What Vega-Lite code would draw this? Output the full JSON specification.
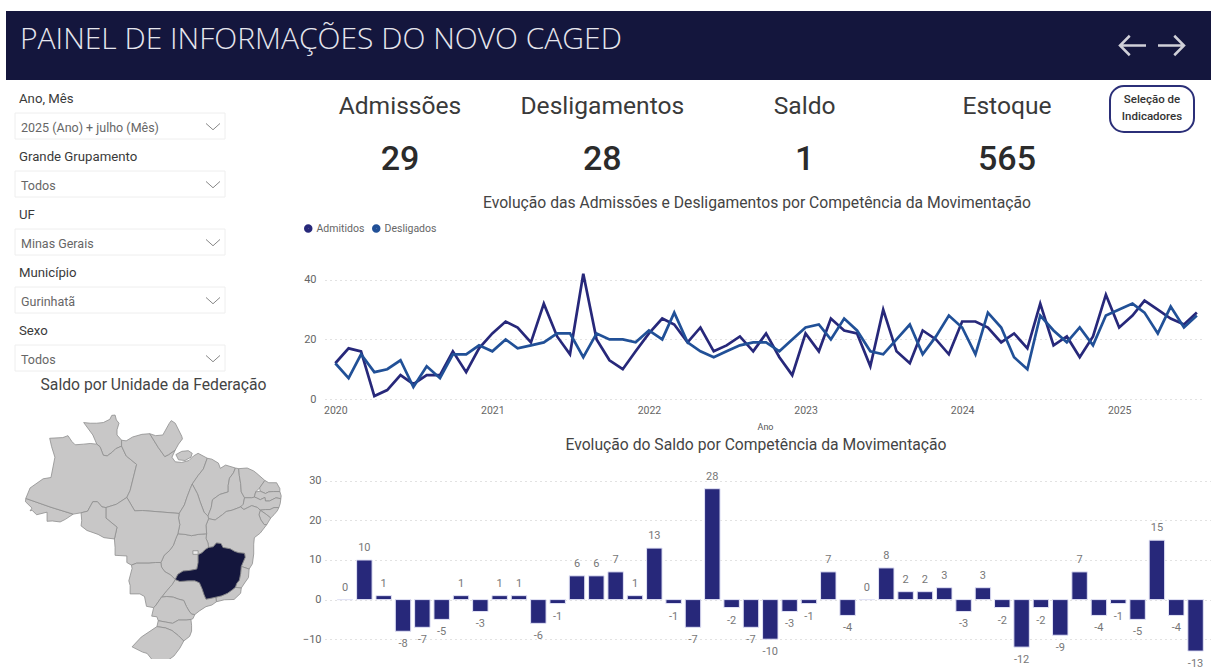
{"$schema":"https://vega.github.io/schema/vega-lite/v6.json","background":"white","padding":{"left":6,"top":11,"right":0,"bottom":0},"autosize":{"type":"pad"},"config":{"view":{"stroke":null},"font":"Roboto"},"datasets":{"mov":[{"mes":"2020-01-01","Admitidos":12,"Desligados":12},{"mes":"2020-02-01","Admitidos":17,"Desligados":7},{"mes":"2020-03-01","Admitidos":16,"Desligados":15},{"mes":"2020-04-01","Admitidos":1,"Desligados":9},{"mes":"2020-05-01","Admitidos":3,"Desligados":10},{"mes":"2020-06-01","Admitidos":8,"Desligados":13},{"mes":"2020-07-01","Admitidos":5,"Desligados":4},{"mes":"2020-08-01","Admitidos":8,"Desligados":11},{"mes":"2020-09-01","Admitidos":8,"Desligados":7},{"mes":"2020-10-01","Admitidos":16,"Desligados":15},{"mes":"2020-11-01","Admitidos":9,"Desligados":15},{"mes":"2020-12-01","Admitidos":17,"Desligados":18},{"mes":"2021-01-01","Admitidos":22,"Desligados":16},{"mes":"2021-02-01","Admitidos":26,"Desligados":20},{"mes":"2021-03-01","Admitidos":24,"Desligados":17},{"mes":"2021-04-01","Admitidos":19,"Desligados":18},{"mes":"2021-05-01","Admitidos":32,"Desligados":19},{"mes":"2021-06-01","Admitidos":21,"Desligados":22},{"mes":"2021-07-01","Admitidos":15,"Desligados":22},{"mes":"2021-08-01","Admitidos":42,"Desligados":14},{"mes":"2021-09-01","Admitidos":20,"Desligados":22},{"mes":"2021-10-01","Admitidos":13,"Desligados":20},{"mes":"2021-11-01","Admitidos":10,"Desligados":20},{"mes":"2021-12-01","Admitidos":16,"Desligados":19},{"mes":"2022-01-01","Admitidos":22,"Desligados":23},{"mes":"2022-02-01","Admitidos":27,"Desligados":20},{"mes":"2022-03-01","Admitidos":25,"Desligados":29},{"mes":"2022-04-01","Admitidos":19,"Desligados":19},{"mes":"2022-05-01","Admitidos":24,"Desligados":16},{"mes":"2022-06-01","Admitidos":16,"Desligados":14},{"mes":"2022-07-01","Admitidos":18,"Desligados":16},{"mes":"2022-08-01","Admitidos":21,"Desligados":18},{"mes":"2022-09-01","Admitidos":16,"Desligados":19},{"mes":"2022-10-01","Admitidos":22,"Desligados":19},{"mes":"2022-11-01","Admitidos":14,"Desligados":16},{"mes":"2022-12-01","Admitidos":8,"Desligados":20},{"mes":"2023-01-01","Admitidos":22,"Desligados":24},{"mes":"2023-02-01","Admitidos":16,"Desligados":25},{"mes":"2023-03-01","Admitidos":27,"Desligados":20},{"mes":"2023-04-01","Admitidos":23,"Desligados":27},{"mes":"2023-05-01","Admitidos":22,"Desligados":23},{"mes":"2023-06-01","Admitidos":11,"Desligados":16},{"mes":"2023-07-01","Admitidos":30,"Desligados":15},{"mes":"2023-08-01","Admitidos":16,"Desligados":20},{"mes":"2023-09-01","Admitidos":12,"Desligados":25},{"mes":"2023-10-01","Admitidos":23,"Desligados":15},{"mes":"2023-11-01","Admitidos":20,"Desligados":21},{"mes":"2023-12-01","Admitidos":15,"Desligados":28},{"mes":"2024-01-01","Admitidos":26,"Desligados":24},{"mes":"2024-02-01","Admitidos":26,"Desligados":15},{"mes":"2024-03-01","Admitidos":24,"Desligados":29},{"mes":"2024-04-01","Admitidos":19,"Desligados":24},{"mes":"2024-05-01","Admitidos":22,"Desligados":14},{"mes":"2024-06-01","Admitidos":17,"Desligados":10},{"mes":"2024-07-01","Admitidos":32,"Desligados":28},{"mes":"2024-08-01","Admitidos":18,"Desligados":23},{"mes":"2024-09-01","Admitidos":21,"Desligados":19},{"mes":"2024-10-01","Admitidos":14,"Desligados":24},{"mes":"2024-11-01","Admitidos":21,"Desligados":18},{"mes":"2024-12-01","Admitidos":35,"Desligados":28},{"mes":"2025-01-01","Admitidos":24,"Desligados":30},{"mes":"2025-02-01","Admitidos":28,"Desligados":32},{"mes":"2025-03-01","Admitidos":33,"Desligados":29},{"mes":"2025-04-01","Admitidos":30,"Desligados":22},{"mes":"2025-05-01","Admitidos":27,"Desligados":31},{"mes":"2025-06-01","Admitidos":25,"Desligados":24},{"mes":"2025-07-01","Admitidos":29,"Desligados":28}],"saldo":[{"mes":"2020-01","saldo":0},{"mes":"2020-02","saldo":10},{"mes":"2020-03","saldo":1},{"mes":"2020-04","saldo":-8},{"mes":"2020-05","saldo":-7},{"mes":"2020-06","saldo":-5},{"mes":"2020-07","saldo":1},{"mes":"2020-08","saldo":-3},{"mes":"2020-09","saldo":1},{"mes":"2020-10","saldo":1},{"mes":"2020-11","saldo":-6},{"mes":"2020-12","saldo":-1},{"mes":"2021-01","saldo":6},{"mes":"2021-02","saldo":6},{"mes":"2021-03","saldo":7},{"mes":"2021-04","saldo":1},{"mes":"2021-05","saldo":13},{"mes":"2021-06","saldo":-1},{"mes":"2021-07","saldo":-7},{"mes":"2021-08","saldo":28},{"mes":"2021-09","saldo":-2},{"mes":"2021-10","saldo":-7},{"mes":"2021-11","saldo":-10},{"mes":"2021-12","saldo":-3},{"mes":"2022-01","saldo":-1},{"mes":"2022-02","saldo":7},{"mes":"2022-03","saldo":-4},{"mes":"2022-04","saldo":0},{"mes":"2022-05","saldo":8},{"mes":"2022-06","saldo":2},{"mes":"2022-07","saldo":2},{"mes":"2022-08","saldo":3},{"mes":"2022-09","saldo":-3},{"mes":"2022-10","saldo":3},{"mes":"2022-11","saldo":-2},{"mes":"2022-12","saldo":-12},{"mes":"2023-01","saldo":-2},{"mes":"2023-02","saldo":-9},{"mes":"2023-03","saldo":7},{"mes":"2023-04","saldo":-4},{"mes":"2023-05","saldo":-1},{"mes":"2023-06","saldo":-5},{"mes":"2023-07","saldo":15},{"mes":"2023-08","saldo":-4},{"mes":"2023-09","saldo":-13}],"filtros":[{"campo":"Ano, Mês","valor":"2025 (Ano) + julho (Mês)"},{"campo":"Grande Grupamento","valor":"Todos"},{"campo":"UF","valor":"Minas Gerais"},{"campo":"Município","valor":"Gurinhatã"},{"campo":"Sexo","valor":"Todos"}],"kpi":[{"indicador":"Admissões","valor":29},{"indicador":"Desligamentos","valor":28},{"indicador":"Saldo","valor":1},{"indicador":"Estoque","valor":565}],"mapa":[
{"type":"Feature","properties":{"uf":"AC","grupo":"outros"},"geometry":{"type":"Polygon","coordinates":[[[-73.85,-7.5],[-70,-8.85],[-66.6,-9.9],[-67.8,-10.7],[-68.6,-11.1],[-69.8,-10.95],[-70.6,-11],[-70.6,-9.6],[-72.2,-10],[-72.9,-9.3],[-73.2,-9.4],[-72.9,-8.98],[-73.9,-8],[-73.85,-7.5]]]}},
{"type":"Feature","properties":{"uf":"RR","grupo":"outros"},"geometry":{"type":"Polygon","coordinates":[[[-60.7,5.2],[-60.2,5.25],[-60,4.5],[-59.6,4],[-59.9,3],[-59.9,2.2],[-59.2,1.4],[-59.2,0.5],[-60.1,0.1],[-60.6,-0.4],[-61.4,-1],[-62,-0.9],[-62.5,0.4],[-63,0.8],[-63.6,2.2],[-65,4.1],[-64,4],[-63,4],[-62,4.1],[-61,4.6],[-60.7,5.2]]]}},
{"type":"Feature","properties":{"uf":"AM","grupo":"outros"},"geometry":{"type":"Polygon","coordinates":[[[-73.85,-7.5],[-73.2,-5.9],[-71.2,-4.5],[-70,-4.3],[-69.4,-1.2],[-69.9,0.4],[-70.2,1.7],[-68.2,1.8],[-67.4,2.1],[-66.8,1.2],[-66.3,0.7],[-65,0.8],[-64,0.9],[-63,0.8],[-62.5,0.4],[-62,-0.9],[-61.4,-1],[-60.6,-0.4],[-60.1,0.1],[-59.2,0.5],[-58.5,-1],[-56.9,-2.3],[-57.9,-6.3],[-58.4,-7.35],[-60,-8.4],[-61.6,-8.9],[-62.2,-8.8],[-62.9,-8],[-63.6,-8],[-64.4,-9.45],[-65.4,-9.7],[-66.6,-9.9],[-70,-8.85],[-73.85,-7.5]]]}},
{"type":"Feature","properties":{"uf":"PA","grupo":"outros"},"geometry":{"type":"MultiPolygon","coordinates":[[[[-59.2,1.4],[-58.5,1.3],[-57.5,1.9],[-56.1,2.3],[-54.9,2.4],[-53.6,0.3],[-52.6,-1.1],[-52,-0.8],[-51,-0.1],[-51.5,-1.2],[-51,-1.9],[-50,-2],[-48.9,-1.7],[-48.2,-1],[-47.5,-0.6],[-46.1,-1.35],[-46.7,-3],[-47.5,-4],[-48.4,-5.3],[-48.7,-6],[-49.2,-7.3],[-49.6,-8.5],[-50.4,-9.8],[-56,-9.35],[-57.2,-9.4],[-58.4,-7.35],[-57.9,-6.3],[-56.9,-2.3],[-58.5,-1],[-59.2,0.5],[-59.2,1.4]]],[[[-50.9,-0.8],[-50,-0.3],[-49,-0.2],[-48.4,-0.6],[-48.6,-1.2],[-49.5,-1.7],[-50.5,-1.6],[-50.9,-0.8]]]]}},
{"type":"Feature","properties":{"uf":"AP","grupo":"outros"},"geometry":{"type":"Polygon","coordinates":[[[-54.9,2.4],[-54,2.1],[-52.9,2.2],[-51.9,4],[-51.6,4.4],[-51,4],[-50,2],[-49.9,1.6],[-50.5,0.8],[-51,-0.1],[-52,-0.8],[-52.6,-1.1],[-53.6,0.3],[-54.9,2.4]]]}},
{"type":"Feature","properties":{"uf":"MA","grupo":"outros"},"geometry":{"type":"Polygon","coordinates":[[[-46.1,-1.35],[-45.4,-1.5],[-44.4,-2.1],[-44.1,-2.9],[-43.3,-2.4],[-41.8,-2.85],[-42.1,-3.6],[-42.7,-4.4],[-42.9,-5.5],[-42.9,-6.5],[-44.2,-6.9],[-45.3,-7.7],[-45.5,-8.9],[-46,-10.2],[-46.6,-9.6],[-47.2,-8],[-47.6,-6.8],[-48.4,-5.3],[-47.5,-4],[-46.7,-3],[-46.1,-1.35]]]}},
{"type":"Feature","properties":{"uf":"PI","grupo":"outros"},"geometry":{"type":"Polygon","coordinates":[[[-41.8,-2.85],[-41.3,-2.95],[-41.2,-4],[-41,-5.2],[-40.9,-6.5],[-40.4,-7.4],[-40.6,-8.4],[-41,-8.8],[-42.3,-9.3],[-43.2,-9.5],[-43.8,-10],[-44.9,-10.8],[-45.9,-10.6],[-46,-10.2],[-45.5,-8.9],[-45.3,-7.7],[-44.2,-6.9],[-42.9,-6.5],[-42.9,-5.5],[-42.7,-4.4],[-42.1,-3.6],[-41.8,-2.85]]]}},
{"type":"Feature","properties":{"uf":"CE","grupo":"outros"},"geometry":{"type":"Polygon","coordinates":[[[-41.3,-2.95],[-40,-2.85],[-39,-3.3],[-38.5,-3.7],[-37.3,-4.75],[-38.1,-5.9],[-38.7,-6.5],[-38.9,-7.3],[-39.3,-7.4],[-40.4,-7.4],[-40.9,-6.5],[-41,-5.2],[-41.2,-4],[-41.3,-2.95]]]}},
{"type":"Feature","properties":{"uf":"RN","grupo":"outros"},"geometry":{"type":"Polygon","coordinates":[[[-37.3,-4.75],[-36.7,-5.1],[-35.5,-5.1],[-35,-6],[-35,-6.45],[-36,-6.45],[-36.7,-6.5],[-37.2,-6.75],[-38,-6.4],[-38.1,-5.9],[-37.3,-4.75]]]}},
{"type":"Feature","properties":{"uf":"PB","grupo":"outros"},"geometry":{"type":"Polygon","coordinates":[[[-38.7,-6.5],[-38,-6.4],[-37.2,-6.75],[-36.7,-6.5],[-36,-6.45],[-35,-6.45],[-34.8,-7.1],[-34.85,-7.55],[-35.6,-7.4],[-36.6,-7.9],[-37.2,-7.9],[-37.3,-7.35],[-38,-7.7],[-38.6,-7.4],[-38.9,-7.3],[-38.7,-6.5]]]}},
{"type":"Feature","properties":{"uf":"PE","grupo":"outros"},"geometry":{"type":"Polygon","coordinates":[[[-40.4,-7.4],[-39.3,-7.4],[-38.9,-7.3],[-38.6,-7.4],[-38,-7.7],[-37.3,-7.35],[-37.2,-7.9],[-36.6,-7.9],[-35.6,-7.4],[-34.85,-7.55],[-34.95,-8.3],[-35.15,-8.9],[-35.9,-8.9],[-36.5,-9.2],[-37.2,-9.2],[-38,-9.3],[-38.4,-8.9],[-39.3,-8.6],[-40.5,-9.2],[-41,-8.8],[-40.6,-8.4],[-40.4,-7.4]]]}},
{"type":"Feature","properties":{"uf":"AL","grupo":"outros"},"geometry":{"type":"Polygon","coordinates":[[[-35.15,-8.9],[-35.4,-9.4],[-35.9,-10],[-36.4,-10.5],[-37,-10],[-38,-9.3],[-37.2,-9.2],[-36.5,-9.2],[-35.9,-8.9],[-35.15,-8.9]]]}},
{"type":"Feature","properties":{"uf":"SE","grupo":"outros"},"geometry":{"type":"Polygon","coordinates":[[[-36.4,-10.5],[-37,-11.5],[-37.4,-11.5],[-37.9,-10.8],[-38.2,-10],[-38,-9.3],[-37,-10],[-36.4,-10.5]]]}},
{"type":"Feature","properties":{"uf":"BA","grupo":"outros"},"geometry":{"type":"Polygon","coordinates":[[[-45.9,-10.6],[-44.9,-10.8],[-43.8,-10],[-43.2,-9.5],[-42.3,-9.3],[-41,-8.8],[-40.5,-9.2],[-39.3,-8.6],[-38.4,-8.9],[-38,-9.3],[-38.2,-10],[-37.9,-10.8],[-37.4,-11.5],[-37,-11.5],[-38,-12.8],[-38.9,-13.5],[-39,-14.5],[-39,-16],[-39.2,-17.5],[-39.7,-18.3],[-40.9,-17.9],[-40.3,-16.5],[-40.4,-15.9],[-41.3,-15.8],[-41.9,-15.6],[-42.6,-15.2],[-43.7,-15],[-44,-14.4],[-44.7,-14.3],[-45.2,-14.9],[-45.9,-15],[-46,-14.3],[-46.3,-13.6],[-46.2,-12.9],[-46.3,-11.6],[-45.9,-10.6]]]}},
{"type":"Feature","properties":{"uf":"ES","grupo":"outros"},"geometry":{"type":"Polygon","coordinates":[[[-40.9,-17.9],[-39.7,-18.3],[-39.8,-19.6],[-40.3,-20.3],[-40.9,-21.2],[-41.8,-21.1],[-41.6,-20.5],[-41.2,-20],[-41,-19],[-40.9,-17.9]]]}},
{"type":"Feature","properties":{"uf":"RJ","grupo":"outros"},"geometry":{"type":"Polygon","coordinates":[[[-41.8,-21.1],[-40.9,-21.2],[-41,-22],[-42,-22.95],[-43.5,-23],[-44.7,-23.3],[-44.8,-22.6],[-43.9,-22.4],[-43,-22],[-42.3,-21.5],[-41.8,-21.1]]]}},
{"type":"Feature","properties":{"uf":"SP","grupo":"outros"},"geometry":{"type":"Polygon","coordinates":[[[-53.1,-22.6],[-52.3,-21.6],[-51.5,-20.7],[-51,-19.9],[-50.3,-20.2],[-49,-20.1],[-48,-20.1],[-47.3,-20.4],[-46.9,-21.3],[-46.6,-22.2],[-46.3,-22.9],[-45.7,-22.8],[-44.8,-22.6],[-44.7,-23.3],[-45.4,-23.8],[-46.3,-24.05],[-47.3,-24.7],[-48,-25.25],[-48.5,-25.2],[-48.9,-24.7],[-49.3,-24],[-49.7,-23.1],[-50.5,-22.9],[-51.3,-22.6],[-52.3,-22.5],[-53.1,-22.6]]]}},
{"type":"Feature","properties":{"uf":"GO","grupo":"outros"},"geometry":{"type":"Polygon","coordinates":[[[-50.6,-12.9],[-49.5,-13],[-48.5,-13.2],[-47.5,-13],[-46.2,-12.9],[-46.3,-13.6],[-46,-14.3],[-45.9,-15],[-46.4,-15.3],[-46.9,-15.8],[-47.5,-16.1],[-47.5,-17.3],[-47.7,-18.3],[-48.7,-18.5],[-49.8,-18.6],[-50.6,-19.1],[-51,-19.9],[-51.7,-19.2],[-52.6,-18.7],[-53.1,-18],[-53.2,-17.3],[-53,-16.9],[-52.7,-16.2],[-51.9,-15.5],[-51.3,-14.7],[-50.9,-13.6],[-50.6,-12.9]]]}},
{"type":"Feature","properties":{"uf":"DF","grupo":"df"},"geometry":{"type":"Polygon","coordinates":[[[-48.3,-15.5],[-47.5,-15.5],[-47.5,-16.05],[-48.3,-16.05],[-48.3,-15.5]]]}},
{"type":"Feature","properties":{"uf":"TO","grupo":"outros"},"geometry":{"type":"Polygon","coordinates":[[[-48.4,-5.3],[-47.6,-6.8],[-47.2,-8],[-46.6,-9.6],[-46,-10.2],[-45.9,-10.6],[-46.3,-11.6],[-46.2,-12.9],[-47.5,-13],[-48.5,-13.2],[-49.5,-13],[-50.6,-12.9],[-50.3,-11.5],[-50.5,-10.5],[-50.4,-9.8],[-49.6,-8.5],[-49.2,-7.3],[-48.7,-6],[-48.4,-5.3]]]}},
{"type":"Feature","properties":{"uf":"MT","grupo":"outros"},"geometry":{"type":"Polygon","coordinates":[[[-61.6,-8.9],[-60,-8.4],[-58.4,-7.35],[-57.2,-9.4],[-56,-9.35],[-50.4,-9.8],[-50.5,-10.5],[-50.3,-11.5],[-50.6,-12.9],[-50.9,-13.6],[-51.3,-14.7],[-51.9,-15.5],[-52.7,-16.2],[-53,-16.9],[-53.2,-17.3],[-54,-17.3],[-55,-17.4],[-56.9,-17.4],[-57.7,-17.7],[-58.4,-17.3],[-58.4,-16.3],[-60.2,-16.2],[-60.2,-15],[-60.3,-13.7],[-59.9,-11.9],[-61.6,-10.5],[-61.6,-8.9]]]}},
{"type":"Feature","properties":{"uf":"RO","grupo":"outros"},"geometry":{"type":"Polygon","coordinates":[[[-65.4,-9.7],[-64.4,-9.45],[-63.6,-8],[-62.9,-8],[-62.2,-8.8],[-61.6,-8.9],[-61.6,-10.5],[-59.9,-11.9],[-60.3,-13.7],[-61.9,-13.5],[-62.8,-13],[-64.5,-12.4],[-65.4,-11.7],[-65.3,-10.9],[-65.4,-9.7]]]}},
{"type":"Feature","properties":{"uf":"MS","grupo":"outros"},"geometry":{"type":"Polygon","coordinates":[[[-53.2,-17.3],[-53.1,-18],[-52.6,-18.7],[-51.7,-19.2],[-51,-19.9],[-51.5,-20.7],[-52.3,-21.6],[-53.1,-22.6],[-54,-23.9],[-54.3,-24.2],[-55.4,-24],[-55.7,-22.5],[-56.4,-22.1],[-57.9,-22.1],[-57.9,-20.8],[-58.1,-20.1],[-57.6,-18.2],[-57.7,-17.7],[-56.9,-17.4],[-55,-17.4],[-54,-17.3],[-53.2,-17.3]]]}},
{"type":"Feature","properties":{"uf":"PR","grupo":"outros"},"geometry":{"type":"Polygon","coordinates":[[[-53.1,-22.6],[-52.3,-22.5],[-51.3,-22.6],[-50.5,-22.9],[-49.7,-23.1],[-49.3,-24],[-48.9,-24.7],[-48.5,-25.2],[-48,-25.25],[-48.3,-25.9],[-48.6,-26],[-49.3,-26.1],[-50.5,-26.1],[-51.4,-26.6],[-52.5,-26.4],[-53.6,-26.2],[-53.8,-25.6],[-54.6,-25.5],[-54.3,-24.2],[-54,-23.9],[-53.1,-22.6]]]}},
{"type":"Feature","properties":{"uf":"SC","grupo":"outros"},"geometry":{"type":"Polygon","coordinates":[[[-48.6,-26],[-48.5,-26.9],[-48.5,-27.8],[-48.8,-28.6],[-49.7,-29.3],[-50.5,-28.5],[-51.5,-27.7],[-52.5,-27.3],[-53.8,-27.1],[-53.6,-26.2],[-52.5,-26.4],[-51.4,-26.6],[-50.5,-26.1],[-49.3,-26.1],[-48.6,-26]]]}},
{"type":"Feature","properties":{"uf":"RS","grupo":"outros"},"geometry":{"type":"Polygon","coordinates":[[[-53.8,-27.1],[-52.5,-27.3],[-51.5,-27.7],[-50.5,-28.5],[-49.7,-29.3],[-50.3,-30.4],[-51.2,-31.6],[-52.2,-32.3],[-53,-33.2],[-53.5,-33.75],[-53.8,-32.8],[-54.5,-32.2],[-55.3,-31.2],[-56,-31],[-57.6,-30.2],[-56.2,-28.7],[-55,-27.9],[-53.8,-27.1]]]}},
{"type":"Feature","properties":{"uf":"MG","grupo":"selecionado"},"geometry":{"type":"Polygon","coordinates":[[[-51,-19.9],[-50.6,-19.1],[-49.8,-18.6],[-48.7,-18.5],[-47.7,-18.3],[-47.5,-17.3],[-47.5,-16.1],[-46.9,-15.8],[-46.4,-15.3],[-45.9,-15],[-45.2,-14.9],[-44.7,-14.3],[-44,-14.4],[-43.7,-15],[-42.6,-15.2],[-41.9,-15.6],[-41.3,-15.8],[-40.4,-15.9],[-40.3,-16.5],[-40.9,-17.9],[-41,-19],[-41.2,-20],[-41.6,-20.5],[-41.8,-21.1],[-42.3,-21.5],[-43,-22],[-43.9,-22.4],[-44.8,-22.6],[-45.7,-22.8],[-46.3,-22.9],[-46.6,-22.2],[-46.9,-21.3],[-47.3,-20.4],[-48,-20.1],[-49,-20.1],[-50.3,-20.2],[-51,-19.9]]]}}
]},"bounds":"flush","columns":2,"spacing":{"row":6,"column":0},"resolve":{"scale":{"color":"independent"}},"concat":[
{"width":319,"height":69,"title":{"text":"PAINEL DE INFORMAÇÕES DO NOVO CAGED","anchor":"start","frame":"group","dx":14,"offset":-44,"fontSize":30,"fontWeight":300,"font":"Open Sans","color":"#e6e6ee","zindex":1},"data":{"values":[{"seta":"voltar"},{"seta":"avancar"}]},"resolve":{"scale":{"x":"independent"}},"layer":[
{"mark":{"type":"rect","fill":"#14163d"},"encoding":{"x":{"datum":0,"type":"quantitative","axis":null,"scale":{"domain":[0,1],"range":[0,1205]}},"x2":{"datum":1}}},
{"transform":[{"filter":"datum.seta==='voltar'"}],"mark":{"type":"point","filled":false,"size":676,"stroke":"#d0d0d8","strokeWidth":2.5,"shape":"M1,0L-1,0M-0.25,-0.75L-1,0L-0.25,0.75","opacity":1},"encoding":{"x":{"field":"seta","type":"nominal","axis":null,"scale":{"type":"point","padding":0,"domain":["voltar","avancar"],"range":[1127,1165]}}}},
{"transform":[{"filter":"datum.seta==='avancar'"}],"mark":{"type":"point","filled":false,"size":676,"stroke":"#d0d0d8","strokeWidth":2.5,"shape":"M-1,0L1,0M0.25,-0.75L1,0L0.25,0.75","opacity":1},"encoding":{"x":{"field":"seta","type":"nominal","axis":null,"scale":{"type":"point","padding":0,"domain":["voltar","avancar"],"range":[1127,1165]}}}}]},
{"width":1,"height":69,"data":{"values":[]},"mark":"rect","encoding":{}},
{"width":319,"height":158,"data":{"name":"filtros"},"layer":[
{"mark":{"type":"bar","height":26,"yOffset":11,"fill":"white","stroke":"#eeeeee","strokeWidth":1},"encoding":{"y":{"field":"campo","type":"nominal","sort":null,"axis":null,"scale":{"type":"band","padding":0,"range":[0,290]}},"x":{"datum":0,"type":"quantitative","axis":null,"scale":{"domain":[0,1],"range":[9,219]}},"x2":{"datum":1}}},
{"mark":{"type":"text","align":"left","baseline":"middle","dx":4,"fontSize":13.2,"fontWeight":400,"color":"#3a3a3a"},"encoding":{"y":{"field":"campo","type":"nominal","sort":null,"axis":null,"bandPosition":0.22,"scale":{"type":"band","padding":0,"range":[0,290]}},"x":{"datum":0,"type":"quantitative","axis":null,"scale":{"domain":[0,1],"range":[9,219]}},"text":{"field":"campo"}}},
{"mark":{"type":"text","align":"left","baseline":"middle","dx":6,"fontSize":12.5,"color":"#666666"},"encoding":{"y":{"field":"campo","type":"nominal","sort":null,"axis":null,"bandPosition":0.73,"scale":{"type":"band","padding":0,"range":[0,290]}},"x":{"datum":0,"type":"quantitative","axis":null,"scale":{"domain":[0,1],"range":[9,219]}},"text":{"field":"valor"}}},
{"mark":{"type":"point","filled":false,"size":196,"stroke":"#888888","strokeWidth":1,"opacity":1,"xOffset":-12,"shape":"M-1,-0.45L0,0.45L1,-0.45"},"encoding":{"y":{"field":"campo","type":"nominal","sort":null,"axis":null,"bandPosition":0.7,"scale":{"type":"band","padding":0,"range":[0,290]}},"x":{"datum":1,"type":"quantitative","axis":null,"scale":{"domain":[0,1],"range":[9,219]}}}}
]},
{"width":880,"height":158,"data":{"name":"kpi"},"resolve":{"scale":{"x":"independent","y":"independent"}},"layer":[
{"layer":[
{"mark":{"type":"text","fontSize":24.6,"color":"#3a3a3a"},"encoding":{"x":{"field":"indicador","type":"nominal","sort":null,"axis":null,"scale":{"type":"point","padding":0,"range":[75,682]}},"y":{"datum":"nome","type":"nominal","axis":null,"scale":{"type":"point","padding":0,"domain":["nome","valor"],"range":[21,74]}},"text":{"field":"indicador"}}},
{"mark":{"type":"text","fontSize":34,"fontWeight":500,"color":"#2b2b2b"},"encoding":{"x":{"field":"indicador","type":"nominal","sort":null,"axis":null,"scale":{"type":"point","padding":0,"range":[75,682]}},"y":{"datum":"valor","type":"nominal","axis":null,"scale":{"type":"point","padding":0,"domain":["nome","valor"],"range":[21,74]}},"text":{"field":"valor"}}}
]},
{"data":{"values":[{"rotulo":"Seleção de\nIndicadores"}]},"layer":[
{"mark":{"type":"rect","fill":"white","stroke":"#2b2f78","strokeWidth":2,"cornerRadius":14},"encoding":{"x":{"datum":0,"type":"quantitative","axis":null,"scale":{"domain":[0,1],"range":[785,869]}},"x2":{"datum":1},"y":{"datum":0,"type":"quantitative","axis":null,"scale":{"domain":[0,1],"range":[0,46]}},"y2":{"datum":1}}},
{"mark":{"type":"text","fontSize":11.5,"fontWeight":500,"color":"#333333","lineBreak":"\n","lineHeight":17,"baseline":"middle"},"encoding":{"x":{"datum":0.5,"type":"quantitative","axis":null,"scale":{"domain":[0,1],"range":[785,869]}},"y":{"datum":0.304,"type":"quantitative","axis":null,"scale":{"domain":[0,1],"range":[0,46]}},"text":{"field":"rotulo"}}}
]}
]},
{"width":1,"height":149,"data":{"values":[]},"mark":"rect","encoding":{}},
{"width":880,"height":149,"title":{"text":"Evolução das Admissões e Desligamentos por Competência da Movimentação","anchor":"middle","frame":"group","dx":-8,"offset":11,"fontSize":15.7,"fontWeight":400,"color":"#444444"},"data":{"name":"mov"},"transform":[{"fold":["Admitidos","Desligados"],"as":["serie","qtd"]}],"mark":{"type":"line","strokeWidth":2.7,"interpolate":"linear"},"encoding":{"x":{"field":"mes","type":"temporal","title":"Ano","scale":{"type":"utc","domain":["2019-12-08","2025-07-20"]},"axis":{"format":"%Y","formatType":"utc","tickCount":{"interval":"year"},"grid":false,"domain":false,"ticks":false,"labelColor":"#666666","labelFontSize":10.5,"labelPadding":6,"titleFontSize":9,"titleFontWeight":"normal","titleColor":"#555555","titlePadding":7}},"y":{"field":"qtd","type":"quantitative","title":null,"scale":{"domain":[0,50]},"axis":{"values":[0,20,40],"grid":true,"gridDash":[1,4],"gridColor":"#c4c4c4","domain":false,"ticks":false,"labelColor":"#666666","labelFontSize":11,"labelPadding":9}},"color":{"field":"serie","type":"nominal","scale":{"domain":["Admitidos","Desligados"],"range":["#27287a","#215097"]},"legend":{"orient":"none","legendX":-22,"legendY":-27,"direction":"horizontal","title":null,"symbolType":"circle","symbolSize":20,"symbolStrokeWidth":4,"labelFontSize":10.5,"labelColor":"#666666","columnPadding":1,"labelOffset":3}}}},
{"width":319,"height":254,"title":{"text":"Saldo por Unidade da Federação","anchor":"middle","frame":"group","dx":-12,"offset":11,"fontSize":15.7,"fontWeight":400,"color":"#444444"},"data":{"name":"mapa"},"projection":{"type":"equirectangular","scale":374.7,"center":[-54.4,-14.24],"translate":[147,137.5]},"mark":{"type":"geoshape","stroke":"#8e8e8e","strokeWidth":0.8},"encoding":{"color":{"field":"properties.grupo","type":"nominal","legend":null,"scale":{"domain":["outros","df","selecionado"],"range":["#c8c7c7","#ededed","#14163d"]}}}},
{"width":886,"height":254,"title":{"text":"Evolução do Saldo por Competência da Movimentação","anchor":"middle","frame":"group","dx":-12,"offset":-49,"fontSize":15.7,"fontWeight":400,"color":"#444444"},"data":{"name":"saldo"},"encoding":{"x":{"field":"mes","type":"ordinal","axis":null,"scale":{"type":"band","paddingInner":0.2,"paddingOuter":0.517,"align":0.615}},"y":{"field":"saldo","type":"quantitative","title":null,"scale":{"domain":[-15,49.14]},"axis":{"values":[-10,0,10,20,30],"grid":true,"gridDash":[1,4],"gridColor":"#c4c4c4","domain":false,"ticks":false,"labelColor":"#666666","labelFontSize":11,"labelPadding":4}}},"layer":[
{"mark":{"type":"bar","fill":"#27287a","stroke":"#e2e3f6","strokeWidth":1}},
{"transform":[{"filter":"datum.saldo>=0"}],"mark":{"type":"text","baseline":"bottom","dy":-7,"fontSize":11,"color":"#777777"},"encoding":{"text":{"field":"saldo"}}},
{"transform":[{"filter":"datum.saldo<0"}],"mark":{"type":"text","baseline":"top","dy":7,"fontSize":11,"color":"#777777"},"encoding":{"text":{"field":"saldo"}}}
]}
]}
